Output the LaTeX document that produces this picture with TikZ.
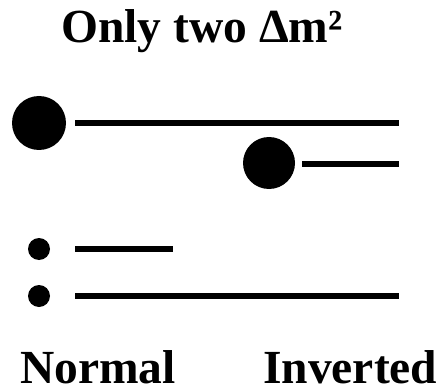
\documentclass[tikz,border=0pt]{standalone}
\usepackage{fontspec}
\setmainfont{Liberation Serif}
\begin{document}
\begin{tikzpicture}[x=1pt,y=-1pt,
  lbl/.style={font=\fontsize{47.5}{50}\selectfont\bfseries, inner sep=0pt, anchor=base west},
  level/.style={line width=6pt},
  dot/.style={circle, fill=black, inner sep=0pt}]
\useasboundingbox (0,0) rectangle (441,390);
\node[lbl] (title) at (61,43) {Only two Δm²};
\node[dot, minimum size=54pt] (d1) at (39,123) {};
\node[dot, minimum size=52pt] (d2) at (269,163) {};
\node[dot, minimum size=22pt] (d3) at (39,249) {};
\node[dot, minimum size=22pt] (d4) at (39,296) {};
\draw[level] (75,123) -- (399,123);
\draw[level] (302,164) -- (399,164);
\draw[level] (75,249) -- (173,249);
\draw[level] (75,296) -- (399,296);
\node[lbl, text depth=0pt] (normal) at (20,383) {Normal};
\node[lbl, text depth=0pt] (inverted) at (263,383) {Inverted};
\end{tikzpicture}
\end{document}
